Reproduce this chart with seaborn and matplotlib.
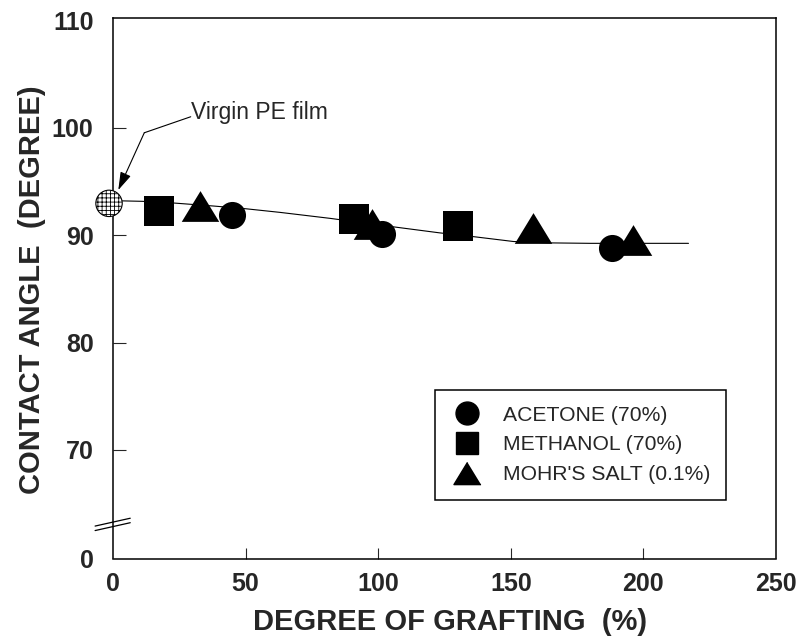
import numpy as np
import pandas as pd
import matplotlib
matplotlib.use("Agg")
import matplotlib.pyplot as plt
from matplotlib.lines import Line2D
import seaborn as sns

# ---- data ----
acetone_x = [44.9, 101.4, 188.2]
acetone_y = [91.91, 90.10, 88.76]
methanol_x = [17.3, 90.9, 130.0]
methanol_y = [92.26, 91.54, 90.81]
mohr_x = [32.8, 97.8, 158.2, 196.2]
mohr_y = [92.75, 91.00, 90.65, 89.58]
virgin_x = [-1.5]
virgin_y = [92.95]
fit_x = [0, 11, 23, 38, 50, 63, 82, 100, 123, 136, 151, 165, 180, 217]
fit_y = [93.2, 93.14, 92.98, 92.7, 92.45, 92.11, 91.55, 90.95, 90.21, 89.85,
         89.4, 89.27, 89.23, 89.23]

x_ticks = [0, 50, 100, 150, 200, 250]
y_ticks = [59.9, 70, 80, 90, 100, 110]
y_ticklabels = ["0", "70", "80", "90", "100", "110"]
legend_labels = ["ACETONE (70%)", "METHANOL (70%)", "MOHR'S SALT (0.1%)"]

sns.set_style("ticks")
plt.rcParams["font.family"] = ["Liberation Sans", "DejaVu Sans"]
plt.rcParams["hatch.linewidth"] = 0.6

fig = plt.figure(figsize=(7.99, 6.39), dpi=100)
ax = fig.add_axes([113 / 799, 1 - 558.5 / 639, 663 / 799, 540.5 / 639])

tri = [(0, 0.82), (-1, -0.82), (1, -0.82)]

fit_df = pd.DataFrame({"x": fit_x, "y": fit_y})
sns.lineplot(data=fit_df, x="x", y="y", ax=ax, color="black", lw=0.8,
             sort=False, zorder=2)

sns.scatterplot(x=acetone_x, y=acetone_y, ax=ax, marker="o", s=19.5 ** 2,
                color="black", edgecolor="black", linewidth=0, zorder=3)
sns.scatterplot(x=methanol_x, y=methanol_y, ax=ax, marker="s", s=21.5 ** 2,
                color="black", edgecolor="black", linewidth=0, zorder=3)
sns.scatterplot(x=mohr_x, y=mohr_y, ax=ax, marker=tri, s=27 ** 2,
                color="black", edgecolor="black", linewidth=0, zorder=3)
sns.scatterplot(x=virgin_x, y=virgin_y, ax=ax, marker="o", s=19 ** 2,
                facecolor="white", edgecolor="black", linewidth=0.8,
                hatch="++++", zorder=4, clip_on=False)

ax.set_xlim(0, 250)
ax.set_ylim(59.9, 110.2)
ax.set_xticks(x_ticks)
ax.set_xticklabels([str(v) for v in x_ticks])
ax.set_yticks(y_ticks)
ax.set_yticklabels(y_ticklabels)
ax.tick_params(axis="x", direction="in", length=8, width=0.8, pad=10,
               labelsize=18)
ax.tick_params(axis="y", direction="in", length=9.5, width=0.8, pad=14,
               labelsize=18)
for lab in ax.get_xticklabels() + ax.get_yticklabels():
    lab.set_fontweight("bold")
for t in (ax.xaxis.get_major_ticks()[0], ax.xaxis.get_major_ticks()[-1],
          ax.yaxis.get_major_ticks()[0], ax.yaxis.get_major_ticks()[-1]):
    t.tick1line.set_visible(False)

for sp in ax.spines.values():
    sp.set_visible(True)
    sp.set_color("black")
    sp.set_linewidth(1.1)

ax.set_xlabel("DEGREE OF GRAFTING  (%)", fontsize=21, fontweight="bold")
ax.set_ylabel("CONTACT ANGLE  (DEGREE)", fontsize=21, fontweight="bold")
ax.xaxis.set_label_coords(0.508, -0.092)
ax.yaxis.set_label_coords(-0.101, 0.498)

# axis break marks
for dy in (0.0, -0.0083):
    ax.plot([-0.027, 0.026], [0.060 + dy, 0.0745 + dy], transform=ax.transAxes,
            color="black", lw=0.9, clip_on=False, zorder=5)

# annotation
ax.plot([11.8, 29.3], [99.52, 101.01], color="black", lw=0.8)
ax.annotate("", xy=(2.0, 94.19), xytext=(11.8, 99.52),
            arrowprops=dict(arrowstyle="-|>,head_length=0.55,head_width=0.17",
                            mutation_scale=20, color="black", lw=0.8,
                            shrinkA=0, shrinkB=0))
ax.text(29.5, 100.77, "Virgin PE film", fontsize=16.5, va="baseline",
        ha="left")

handles = [
    Line2D([], [], ls="none", marker="o", markersize=16.5, color="black"),
    Line2D([], [], ls="none", marker="s", markersize=16.5, color="black"),
    Line2D([], [], ls="none", marker=tri, markersize=19.5, color="black"),
]
leg = ax.legend(handles, legend_labels, loc="upper left",
                bbox_to_anchor=(0.4857, 0.3117), borderaxespad=0,
                fontsize=15.2, frameon=True, fancybox=False, framealpha=1,
                edgecolor="black", borderpad=0.75, handlelength=1.5,
                handletextpad=0.95, labelspacing=0.5)
leg.get_frame().set_linewidth(1.1)

fig.savefig("out.png", dpi=100)
